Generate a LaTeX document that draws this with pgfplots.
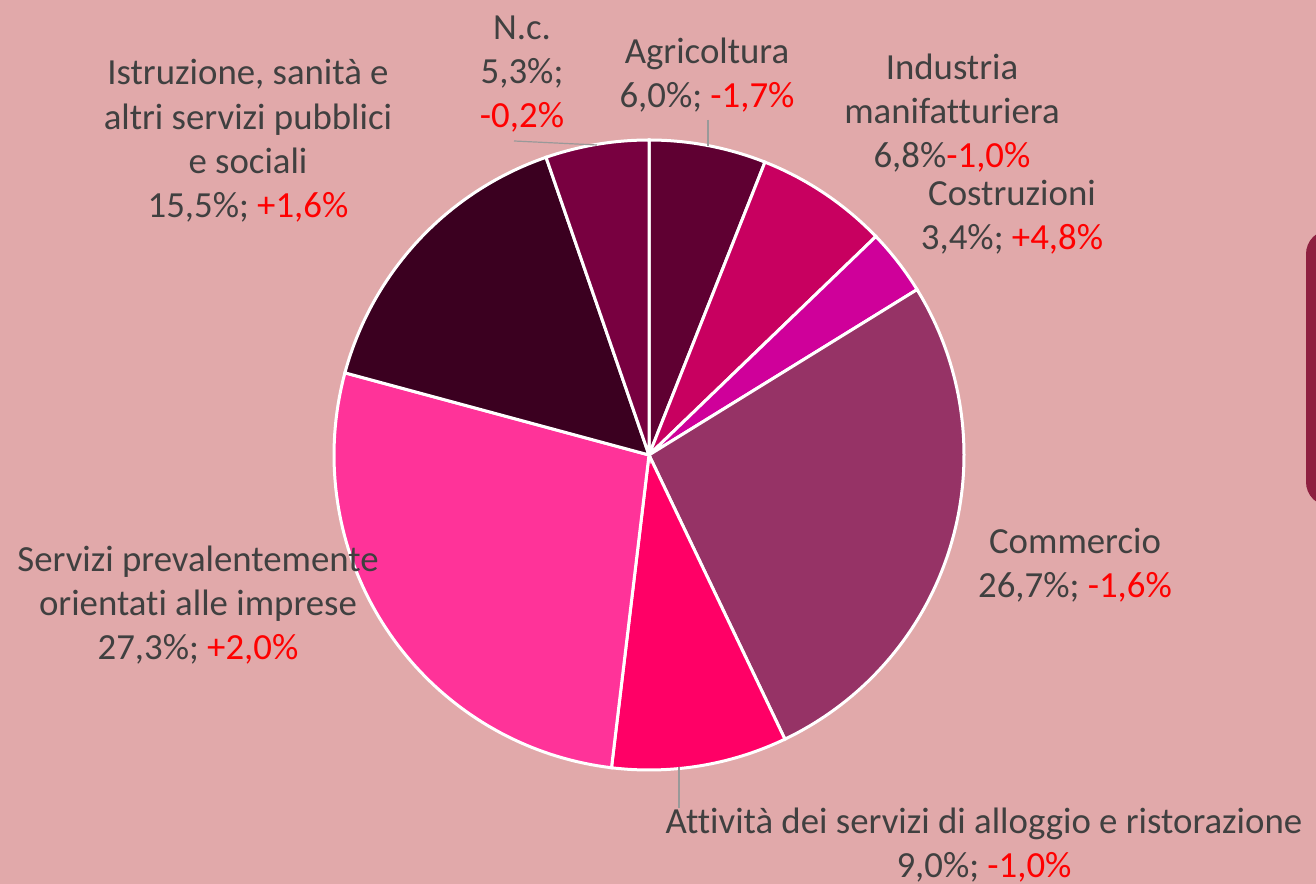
\documentclass[border=0pt]{standalone}
\usepackage{pgfplots}
\pgfplotsset{compat=1.18}
\usepackage{fontspec}
\setmainfont{Carlito}[Ligatures=NoCommon]
\definecolor{bg}{HTML}{E1A9AA}
\definecolor{boxc}{HTML}{8E2040}
\definecolor{txt}{HTML}{404040}
\definecolor{cAgr}{HTML}{5F0032}
\definecolor{cInd}{HTML}{C80060}
\definecolor{cCos}{HTML}{CF009A}
\definecolor{cCom}{HTML}{963366}
\definecolor{cAtt}{HTML}{FF0066}
\definecolor{cSer}{HTML}{FF3399}
\definecolor{cIst}{HTML}{3B0020}
\definecolor{cNc}{HTML}{780040}
\tikzset{lab/.style={font=\fontsize{18.4bp}{22.2bp}\selectfont,text=txt,align=center,inner sep=0pt}}
% slice from cumulative percentage #1 to #2
\newcommand\slice[3]{%
  \addplot[fill=#3,draw=white,line width=1.5bp,domain=#1:#2,samples=80,variable=\p]
    ({649+315*cos(90-3.6*\p)},{429+315*sin(90-3.6*\p)}) -- (axis cs:649,429) -- cycle;
}
\begin{document}
\begin{tikzpicture}
\begin{axis}[width=658bp,height=442bp,scale only axis,
  xmin=0,xmax=1316,ymin=0,ymax=884,hide axis,clip=true]
\fill[bg] (axis cs:0,0) rectangle (axis cs:1316,884);
\fill[boxc,rounded corners=12bp] (axis cs:1306,378) rectangle (axis cs:1400,654);
% data: Agricoltura 6.0, Industria 6.8, Costruzioni 3.4, Commercio 26.7,
% Alloggio 9.0, Servizi imprese 27.3, Istruzione 15.5, N.c. 5.3
\slice{0}{6.0}{cAgr}
\slice{6.0}{12.8}{cInd}
\slice{12.8}{16.2}{cCos}
\slice{16.2}{42.9}{cCom}
\slice{42.9}{51.9}{cAtt}
\slice{51.9}{79.2}{cSer}
\slice{79.2}{94.7}{cIst}
\slice{94.7}{100}{cNc}
\draw[gray!80,line width=0.6bp] (axis cs:514,743) -- (axis cs:597,739);
\draw[gray!80,line width=0.6bp] (axis cs:708,764) -- (axis cs:708,738);
\draw[gray!80,line width=0.6bp] (axis cs:679,117) -- (axis cs:679,76);
\node[lab] at (axis cs:522,810) {N.c.\\5,3\%;\\\textcolor{red}{-0,2\%}};
\node[lab] at (axis cs:707,809) {Agricoltura\\6,0\%; \textcolor{red}{-1,7\%}};
\node[lab] at (axis cs:952,771) {Industria\\manifatturiera\\6,8\%\textcolor{red}{-1,0\%}};
\node[lab] at (axis cs:1012,667) {Costruzioni\\3,4\%; \textcolor{red}{+4,8\%}};
\node[lab] at (axis cs:1075,319) {Commercio\\26,7\%; \textcolor{red}{-1,6\%}};
\node[lab] at (axis cs:984,39) {Attività dei servizi di alloggio e ristorazione\\9,0\%; \textcolor{red}{-1,0\%}};
\node[lab] at (axis cs:198,279) {Servizi prevalentemente\\orientati alle imprese\\27,3\%; \textcolor{red}{+2,0\%}};
\node[lab] at (axis cs:248,743) {Istruzione, sanità e\\altri servizi pubblici\\e sociali\\15,5\%; \textcolor{red}{+1,6\%}};
\end{axis}
\pgfresetboundingbox
\path[use as bounding box] (current axis.south west) rectangle (current axis.north east);
\end{tikzpicture}
\end{document}
